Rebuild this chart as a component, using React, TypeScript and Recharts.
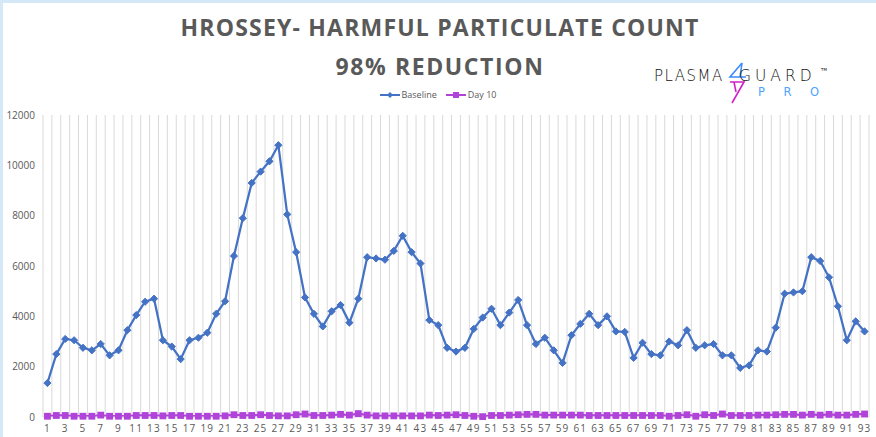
import React from 'react';
import { LineChart, Line, XAxis, YAxis, CartesianGrid, Legend } from 'recharts';

// sample index 1..93
const days = Array.from({ length: 93 }, (_, i) => i + 1);

const baseline = [
  1350, 2500, 3100, 3050, 2750, 2650, 2900, 2450, 2650, 3450,
  4050, 4580, 4700, 3050, 2800, 2300, 3050, 3150, 3350, 4100,
  4600, 6400, 7900, 9300, 9750, 10160, 10800, 8050, 6550, 4750,
  4100, 3600, 4200, 4450, 3750, 4700, 6350, 6300, 6250, 6600,
  7200, 6550, 6100, 3850, 3650, 2750, 2600, 2750, 3500, 3950,
  4300, 3650, 4150, 4650, 3650, 2900, 3150, 2650, 2150, 3250,
  3700, 4100, 3650, 4000, 3400, 3380, 2350, 2950, 2500, 2450,
  3000, 2850, 3450, 2750, 2850, 2900, 2450, 2450, 1950, 2050,
  2650, 2600, 3550, 4900, 4950, 5000, 6350, 6200, 5550, 4400,
  3050, 3800, 3400,
];

const day10 = [
  30, 60, 60, 30, 30, 30, 75, 30, 30, 30,
  60, 60, 60, 45, 60, 60, 30, 30, 30, 30,
  45, 90, 60, 60, 90, 60, 45, 45, 90, 120,
  60, 60, 75, 105, 75, 135, 75, 45, 45, 45,
  45, 45, 45, 75, 60, 75, 90, 60, 30, 15,
  60, 60, 75, 90, 105, 105, 75, 75, 75, 75,
  75, 60, 60, 60, 60, 60, 60, 60, 60, 60,
  30, 60, 90, 30, 90, 60, 120, 60, 60, 60,
  75, 75, 90, 105, 105, 75, 105, 75, 105, 75,
  75, 105, 120,
];

const xTicks = days.filter((d) => d % 2 === 1);
const yTicks = [0, 2000, 4000, 6000, 8000, 10000, 12000];

const data = days.map((d, i) => ({ day: d, Baseline: baseline[i], 'Day 10': day10[i] }));

const BLUE = '#4472C4';
const PURPLE = '#B043D9';
const GREY = '#595959';

const Diamond = (props: any) => {
  const { cx, cy } = props;
  if (cx == null || cy == null) return null;
  const r = 3.6;
  return (
    <polygon
      points={`${cx},${cy - r} ${cx + r},${cy} ${cx},${cy + r} ${cx - r},${cy}`}
      fill={BLUE}
      stroke={BLUE}
      strokeWidth={1}
    />
  );
};

const Square = (props: any) => {
  const { cx, cy } = props;
  if (cx == null || cy == null) return null;
  const s = 3.4;
  return <rect x={cx - s} y={cy - s} width={s * 2} height={s * 2} fill={PURPLE} />;
};

const LegendContent = (props: any) => {
  const { payload } = props;
  return (
    <div style={{ display: 'flex', justifyContent: 'center', gap: 9, fontSize: 9, lineHeight: '11px', color: GREY }}>
      {(payload || []).map((p: any) => (
        <div key={p.value} style={{ display: 'flex', alignItems: 'center', gap: 2 }}>
          <svg width={20} height={8}>
            <line x1={0} y1={4} x2={20} y2={4} stroke={p.color} strokeWidth={2} />
            {p.value === 'Baseline' ? (
              <polygon points="10,1 13,4 10,7 7,4" fill={p.color} />
            ) : (
              <rect x={7} y={1} width={6} height={6} fill={p.color} />
            )}
          </svg>
          <span>{p.value}</span>
        </div>
      ))}
    </div>
  );
};

const Logo = () => (
  <div style={{ position: 'absolute', left: 654, top: 62, width: 175, height: 44, fontFamily: '"DejaVu Sans", sans-serif' }}>
    <div style={{ position: 'absolute', left: 0, top: 8, fontSize: 15, lineHeight: '12px', letterSpacing: 1.5, color: '#111', fontWeight: 300 }}>
      PLASMA
    </div>
    <svg style={{ position: 'absolute', left: 72, top: 0 }} width={26} height={44}>
      <polyline points="16,1 4,15 20,15" fill="none" stroke="#3d8bff" strokeWidth={1.6} />
      <line x1={16} y1={1} x2={14} y2={15} stroke="#3d8bff" strokeWidth={1.6} />
      <polyline points="4,20 18,20 6,41" fill="none" stroke="#d020c8" strokeWidth={1.6} />
      <line x1={8} y1={20} x2={10} y2={30} stroke="#d020c8" strokeWidth={1.6} />
    </svg>
    <div style={{ position: 'absolute', left: 85, top: 8, fontSize: 15.5, lineHeight: '12px', letterSpacing: 4, color: '#111', fontWeight: 300 }}>
      GUARD
    </div>
    <div style={{ position: 'absolute', left: 167, top: 6, fontSize: 4, lineHeight: '4px', color: '#111' }}>TM</div>
    <div style={{ position: 'absolute', left: 104, top: 25, fontSize: 11.5, lineHeight: '10px', letterSpacing: 18.5, color: '#4da3ff' }}>
      PRO
    </div>
  </div>
);

export default function App() {
  return (
    <div
      style={{
        position: 'absolute',
        left: 0,
        top: 0,
        width: 876,
        height: 437,
        background: '#fff',
        overflow: 'hidden',
        fontFamily: '"Open Sans", sans-serif',
      }}
    >
      <div style={{ position: 'absolute', left: 0, top: 0, width: 876, height: 3, background: '#d4e8f8' }} />
      <div style={{ position: 'absolute', left: 0, top: 0, width: 3, height: 437, background: '#d4e8f8' }} />
      <div
        style={{
          position: 'absolute',
          left: 0,
          top: 8,
          width: 876,
          textAlign: 'center',
          paddingLeft: 2,
          fontSize: 23,
          lineHeight: '39px',
          letterSpacing: 1.2,
          fontWeight: 700,
          color: GREY,
        }}
      >
        <div>HROSSEY- HARMFUL PARTICULATE COUNT</div>
        <div style={{ letterSpacing: 1.6 }}>98% REDUCTION</div>
      </div>
      <Logo />
      <LineChart
        width={876}
        height={437}
        data={data}
        margin={{ top: 104, right: 7, bottom: 0, left: 0 }}
        style={{ position: 'absolute', left: 0, top: 0 }}
      >
        <CartesianGrid
          horizontal={false}
          stroke="#d9d9d9"
          strokeWidth={1}
          verticalCoordinatesGenerator={({ offset }: any) =>
            Array.from({ length: days.length + 1 }, (_, i) => offset.left + (i * offset.width) / days.length)
          }
        />
        <XAxis
          dataKey="day"
          type="number"
          domain={[0.5, 93.5]}
          ticks={xTicks}
          interval={0}
          height={20}
          tickLine={false}
          axisLine={{ stroke: '#d9d9d9' }}
          tick={{ fontSize: 10, fill: GREY, letterSpacing: 1.2 }}
        />
        <YAxis
          domain={[0, 12000]}
          ticks={yTicks}
          width={43}
          tickLine={false}
          axisLine={false}
          tick={{ fontSize: 10, fill: GREY }}
        />
        <Legend
          verticalAlign="top"
          content={<LegendContent />}
          wrapperStyle={{ top: 89, left: 0, width: 876 }}
        />
        <Line
          dataKey="Baseline"
          stroke={BLUE}
          strokeWidth={2.25}
          dot={<Diamond />}
          activeDot={false}
          isAnimationActive={false}
        />
        <Line
          dataKey="Day 10"
          stroke={PURPLE}
          strokeWidth={2.25}
          dot={<Square />}
          activeDot={false}
          isAnimationActive={false}
        />
      </LineChart>
    </div>
  );
}
